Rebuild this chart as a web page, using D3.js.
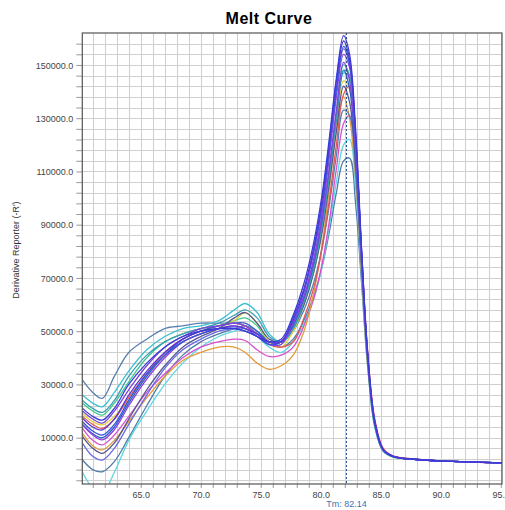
<!DOCTYPE html>
<html>
<head>
<meta charset="utf-8">
<script src="https://cdn.jsdelivr.net/npm/d3@7"></script>
<style>
  body { margin: 0; background: #fff; }
  svg { display: block; font-family: "Liberation Sans", Arial, sans-serif; }
</style>
</head>
<body>
<div id="chart-area"></div>
<script>
var temps = [60.15, 61, 61.8, 62.8, 64, 65.5, 67, 68.5, 70, 71.5, 72.8, 73.7, 74.7, 75.7, 76.7,
    77.7, 78.6, 79.4, 80.1, 80.7, 81.3, 81.9, 82.4, 82.9, 83.4, 83.9, 84.5, 85.2, 86, 88, 91, 95.1];

// derivative reporter, in thousands, one array per well
var well01 = [1.6, -2, -2.8, 1, 10, 22, 33, 41, 46, 49, 51, 52, 50, 46, 44,
    47, 54, 63, 74, 87, 102, 114, 115, 98, 68, 37, 14, 5, 2.8, 1.8, 1.1, 0.5];
var well02 = [-3, -9, -11, -3, 9, 20, 30, 38, 44, 48, 50, 51, 48, 44, 42,
    46, 53, 62, 74, 89, 106, 120, 122, 104, 71, 38, 14, 5, 2.8, 1.8, 1.1, 0.5];
var well03 = [13.5, 9, 7.3, 11, 18, 27, 34, 40, 44, 46, 47, 46.5, 43, 40.5, 41,
    44, 52, 62, 75, 91, 111, 128, 131, 112, 77, 42, 16.5, 5.8, 3.2, 1.9, 1.1, 0.5];
var well04 = [11.6, 7, 5.4, 9, 16, 25, 33, 39, 42, 44, 44, 42, 38, 35.7, 37,
    41, 50, 64, 82, 103, 126, 138, 130, 108, 72, 38, 15, 5.2, 3, 1.8, 1.1, 0.5];
var well05 = [31.6, 27, 24.8, 33, 42, 47, 51, 52, 53, 53, 53, 52, 49, 46, 46,
    50, 58, 68, 81, 97, 116, 133, 131, 110, 74, 39, 15, 5.2, 3, 1.8, 1.1, 0.5];
var well06 = [26, 23, 21.6, 27, 35, 43, 48, 51, 52, 54, 58, 60.4, 57, 49, 46,
    50, 60, 72, 88, 107, 129, 147, 145, 119, 77, 40, 14.5, 5, 2.8, 1.8, 1.1, 0.5];
var well07 = [22.9, 20, 18.5, 23, 31, 40, 46, 49, 51, 52, 54, 55, 52, 46, 45,
    52, 62, 75, 91, 110, 132, 150, 146, 119, 77, 40, 15, 5.3, 3, 1.8, 1.1, 0.5];
var well08 = [19.1, 16, 14.8, 18, 24, 33, 41, 46, 49, 51, 54, 57, 53, 46, 44,
    50, 60, 72, 87, 105, 126, 144, 141, 116, 76, 40, 15, 5.2, 2.9, 1.8, 1.1, 0.5];
var well09 = [18, 15, 13.5, 17, 25, 34, 42, 47, 50, 52, 53, 52, 49, 45, 44,
    46, 55, 66, 81, 99, 120, 139, 142, 120, 80, 43, 17, 6, 3.2, 1.9, 1.1, 0.5];
var well10 = [10.4, 6, 4.1, 8, 17, 28, 37, 44, 48, 51, 55, 57, 53, 47, 46,
    51, 60, 72, 87, 105, 125, 142, 136, 113, 75, 40, 15, 5.2, 3, 1.8, 1.1, 0.5];
var well11 = [15, 11.5, 10, 14, 23, 33, 41, 47, 50, 52, 53, 53, 50, 46, 46,
    52, 62, 74, 90, 109, 130, 148, 141, 116, 76, 40, 15, 5.3, 3, 1.8, 1.1, 0.5];
var well12 = [24, 21, 19.5, 24, 33, 41, 46, 49, 51, 53, 56, 58, 55, 48, 46,
    51, 61, 73, 89, 108, 130, 148, 146, 120, 78, 41, 15, 5.2, 2.9, 1.8, 1.1, 0.5];
var well13 = [20, 17, 15.5, 20, 28, 37, 44, 48, 51, 52, 53, 52, 49, 46, 46,
    53, 63, 76, 92, 111, 133, 151, 144, 118, 77, 41, 15.5, 5.4, 3, 1.8, 1.1, 0.5];
var well14 = [14.8, 11, 9.2, 13, 22, 32, 40, 46, 49, 51, 52, 51, 48, 45, 45,
    53, 63, 77, 94, 115, 138, 154, 149, 122, 79, 41, 16, 5.6, 3, 1.8, 1.1, 0.5];
var well15 = [7.9, 3, 1.6, 6, 15, 26, 36, 43, 47, 50, 51, 51, 49, 46, 46,
    54, 65, 79, 96, 117, 140, 156, 150, 123, 79, 41, 15.5, 5.4, 3, 1.8, 1.1, 0.5];
var well16 = [16, 12.5, 11, 15, 24, 34, 41, 46, 49, 51, 51, 50, 48, 45, 46,
    54, 65, 80, 97, 118, 141, 157, 151, 123, 79, 41, 15.5, 5.4, 3, 1.8, 1.1, 0.5];
var well17 = [17.3, 14, 12.9, 17, 26, 35, 42, 47, 50, 51, 52, 51, 49, 46, 46,
    55, 66, 81, 99, 120, 144, 159, 152, 124, 80, 42, 16, 5.5, 3, 1.8, 1.1, 0.5];
var well18 = [21, 18, 16.6, 21, 30, 38, 44, 48, 50, 51, 51, 50, 48, 46, 47,
    56, 68, 83, 101, 122, 145, 161, 154, 126, 81, 42, 16, 5.5, 3, 1.8, 1.1, 0.5];

var wells = [well01, well02, well03, well04, well05, well06, well07, well08, well09,
    well10, well11, well12, well13, well14, well15, well16, well17, well18];

var xTicks = [65, 70, 75, 80, 85, 90, 95];
var yTicks = [10000, 30000, 50000, 70000, 90000, 110000, 130000, 150000];
var tm = 82.14;

var colors = ["#4d7bab", "#5ed6e2", "#d74fcf", "#e39b3b", "#5a80b2", "#3dbfcf",
    "#3fc78e", "#e0d040", "#e0585c", "#55558f", "#2f5fca", "#3a9db2",
    "#7b45d9", "#8c3ee0", "#6a6ae2", "#3552dc", "#5a36d2", "#3b3bd8"];

var W = 505, H = 510;
var plotL = 82.3, plotR = 502, plotT = 33, plotB = 484;

var svg = d3.select("#chart-area").append("svg")
    .attr("width", W)
    .attr("height", H);

var x = d3.scaleLinear().domain([60.13, 95.1]).range([plotL, plotR]);
var y = d3.scaleLinear().domain([-7400, 162000]).range([plotB, plotT]);

// grid
var grid = svg.append("g").attr("stroke", "#cfcfcf").attr("stroke-width", 1);
grid.selectAll(".vg").data(d3.range(61, 96)).enter().append("line")
    .attr("x1", function(d){ return Math.round(x(d)) + 0.5; })
    .attr("x2", function(d){ return Math.round(x(d)) + 0.5; })
    .attr("y1", plotT).attr("y2", plotB);
grid.selectAll(".hg").data(d3.range(-6000, 162000, 4000)).enter().append("line")
    .attr("y1", function(d){ return Math.round(y(d)) + 0.5; })
    .attr("y2", function(d){ return Math.round(y(d)) + 0.5; })
    .attr("x1", plotL).attr("x2", plotR);

// axes
var yAxis = d3.axisLeft(y)
    .tickValues(d3.range(-6000, 162000, 4000))
    .tickSize(6)
    .tickSizeOuter(0)
    .tickFormat(function(d){ return yTicks.indexOf(d) >= 0 ? d3.format(".1f")(d) : ""; });
var gy = svg.append("g")
    .attr("transform", "translate(" + plotL + ",0)")
    .call(yAxis);
gy.select(".domain").remove();
gy.selectAll("line").attr("stroke", "#9a9a9a");
gy.selectAll("text").attr("font-size", "9px").attr("fill", "#444")
    .attr("font-family", "Liberation Sans, Arial, sans-serif").attr("x", -9).attr("dy", "0.35em");

var xAxis = d3.axisBottom(x)
    .tickValues(d3.range(61, 96))
    .tickSize(4)
    .tickSizeOuter(0)
    .tickFormat(function(d){ return xTicks.indexOf(d) >= 0 ? d3.format(".1f")(d) : ""; });
var gx = svg.append("g")
    .attr("transform", "translate(0," + plotB + ")")
    .call(xAxis);
gx.select(".domain").remove();
gx.selectAll("line").attr("stroke", "#9a9a9a");
gx.selectAll("text").attr("font-size", "9px").attr("fill", "#444")
    .attr("font-family", "Liberation Sans, Arial, sans-serif").attr("y", 8);

// curves
svg.append("clipPath").attr("id", "plot-clip")
    .append("rect").attr("x", plotL).attr("y", plotT)
    .attr("width", plotR - plotL).attr("height", plotB - plotT);

var line = d3.line()
    .x(function(d, i){ return x(temps[i]); })
    .y(function(d){ return y(d * 1000); })
    .curve(d3.curveCatmullRom.alpha(0.5));

svg.append("g").attr("clip-path", "url(#plot-clip)")
    .selectAll("path").data(wells).enter().append("path")
    .attr("d", line)
    .attr("fill", "none")
    .attr("stroke", function(d, i){ return colors[i]; })
    .attr("stroke-width", 1.3)
    .attr("stroke-linejoin", "round");

// Tm marker
svg.append("line")
    .attr("x1", x(tm)).attr("x2", x(tm))
    .attr("y1", plotT).attr("y2", plotB)
    .attr("stroke", "#1f4f8a")
    .attr("stroke-width", 1)
    .attr("stroke-dasharray", "2,2");

svg.append("text")
    .attr("x", x(tm))
    .attr("y", 507)
    .attr("text-anchor", "middle")
    .attr("font-size", "9px")
    .attr("fill", "#3a72b4")
    .text("Tm: " + tm.toFixed(2));

// frame
svg.append("rect")
    .attr("x", plotL).attr("y", plotT)
    .attr("width", plotR - plotL).attr("height", plotB - plotT)
    .attr("fill", "none")
    .attr("stroke", "#555")
    .attr("stroke-width", 1.2);

// labels
svg.append("text")
    .attr("x", 269)
    .attr("y", 24)
    .attr("text-anchor", "middle")
    .attr("font-size", "16px")
    .attr("font-weight", "bold")
    .attr("letter-spacing", "0.5px")
    .text("Melt Curve");

svg.append("text")
    .attr("transform", "rotate(-90)")
    .attr("x", -250)
    .attr("y", 19)
    .attr("text-anchor", "middle")
    .attr("font-size", "9px")
    .attr("fill", "#333")
    .text("Derivative Reporter (-R')");
</script>
</body>
</html>
